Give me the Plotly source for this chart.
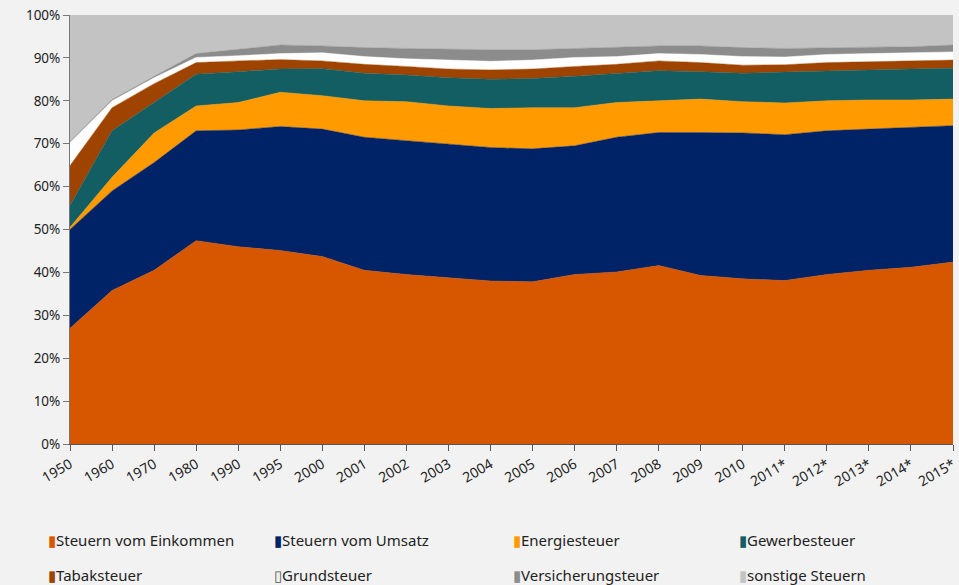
import plotly.graph_objects as go

years = ["1950", "1960", "1970", "1980", "1990", "1995", "2000", "2001", "2002", "2003",
         "2004", "2005", "2006", "2007", "2008", "2009", "2010", "2011*", "2012*", "2013*",
         "2014*", "2015*"]

einkommen = [27.0, 35.8, 40.5, 47.4, 46.0, 45.1, 43.7, 40.5, 39.5, 38.8, 38.0, 37.8, 39.5, 40.1,
             41.6, 39.3, 38.5, 38.1, 39.5, 40.5, 41.2, 42.4]
umsatz = [23.0, 23.2, 25.1, 25.6, 27.2, 28.9, 29.7, 31.0, 31.2, 31.1, 31.1, 31.0, 30.0, 31.4,
          31.0, 33.3, 34.0, 34.0, 33.5, 32.9, 32.6, 31.8]
energie = [0.5, 3.2, 6.9, 5.8, 6.4, 8.0, 7.8, 8.5, 9.1, 8.9, 9.1, 9.6, 8.9, 8.1,
           7.4, 7.8, 7.3, 7.4, 7.0, 6.8, 6.4, 6.2]
gewerbe = [5.1, 10.8, 7.1, 7.4, 7.2, 5.4, 6.3, 6.4, 6.2, 6.6, 6.8, 6.8, 7.3, 6.8,
           7.0, 6.4, 6.6, 7.2, 7.0, 7.0, 7.2, 7.2]
tabak = [9.3, 5.4, 4.4, 2.7, 2.5, 2.2, 1.8, 2.1, 2.0, 2.0, 2.2, 2.2, 2.3, 2.1,
         2.3, 2.1, 1.9, 1.7, 1.9, 1.9, 1.9, 1.9]
grund = [5.4, 1.6, 1.4, 1.2, 1.2, 1.4, 1.9, 1.8, 1.8, 2.1, 2.0, 2.1, 2.1, 1.8,
         1.7, 1.9, 2.0, 1.8, 1.9, 1.9, 1.9, 1.9]
versicherung = [0.2, 0.3, 0.3, 0.9, 1.5, 2.0, 1.6, 2.1, 2.4, 2.5, 2.7, 2.4, 2.1, 2.1,
                1.8, 2.0, 2.1, 2.0, 1.6, 1.5, 1.4, 1.6]
sonstige = [29.5, 19.7, 14.3, 9.0, 8.0, 7.0, 7.2, 7.6, 7.8, 8.0, 8.1, 8.1, 7.8, 7.6,
            7.2, 7.2, 7.6, 7.8, 7.6, 7.5, 7.4, 7.0]

y_ticks = [0, 10, 20, 30, 40, 50, 60, 70, 80, 90, 100]
y_labels = [f"{v}%" for v in y_ticks]

series = [
    ("Steuern vom Einkommen", einkommen, "#D75700"),
    ("Steuern vom Umsatz", umsatz, "#002266"),
    ("Energiesteuer", energie, "#FF9A00"),
    ("Gewerbesteuer", gewerbe, "#135E62"),
    ("Tabaksteuer", tabak, "#9E4400"),
    ("Grundsteuer", grund, "#FFFFFF"),
    ("Versicherungsteuer", versicherung, "#8C8C8C"),
    ("sonstige Steuern", sonstige, "#C3C3C3"),
]

W, H = 959, 585
fig = go.Figure()
for name, vals, col in series:
    fig.add_trace(go.Scatter(
        x=years, y=vals, name=name, stackgroup="one", mode="lines",
        line=dict(width=0.5, color=col), fillcolor=col, showlegend=False,
        hoverinfo="x+y+name"))

col_x = [8, 234, 473, 699]
row_y = [540, 575]
legend_layouts = {}
for i, (name, vals, col) in enumerate(series):
    if col == "#FFFFFF":
        glyph = '<span style="color:#555555">\u25af</span>'
    else:
        glyph = f'<span style="color:{col}">\u25ae</span>'
    key = "legend" if i == 0 else f"legend{i + 1}"
    fig.add_trace(go.Scatter(
        x=[None], y=[None], name=glyph + name, mode="markers",
        marker=dict(size=1, color="rgba(0,0,0,0)"),
        legend=key, showlegend=True))
    legend_layouts[key] = dict(
        orientation="h", xref="container", yref="container",
        x=col_x[i % 4] / W, y=1 - row_y[i // 4] / H,
        xanchor="left", yanchor="middle", bgcolor="rgba(0,0,0,0)",
        font=dict(family="Noto Sans", size=15, color="#222222"), itemwidth=30)

fig.update_layout(
    width=W, height=H,
    margin=dict(l=70, r=6, t=15, b=141),
    paper_bgcolor="#F2F2F2", plot_bgcolor="#FFFFFF",
    font=dict(family="Noto Sans", size=13, color="#222222"),
    xaxis=dict(type="category", range=[0, len(years) - 1], tickangle=-30,
               showgrid=False, ticks="outside", ticklen=6, tickcolor="#555555",
               showline=True, linecolor="#555555", linewidth=1, automargin=False,
               ticklabeloverflow="allow",
               tickfont=dict(size=14, color="#222222"), zeroline=False),
    yaxis=dict(range=[0, 100], tickvals=y_ticks, ticktext=y_labels,
               showgrid=False, ticks="outside", ticklen=6, tickcolor="#777777",
               showline=True, linecolor="#777777", linewidth=1, automargin=False,
               ticklabeloverflow="allow",
               tickfont=dict(size=13.5, color="#222222"), zeroline=False),
    **legend_layouts,
)

fig.write_html(
    "out.html",
    config={"displayModeBar": False},
    post_script="document.body.style.margin='0';document.body.style.overflow='hidden';")
